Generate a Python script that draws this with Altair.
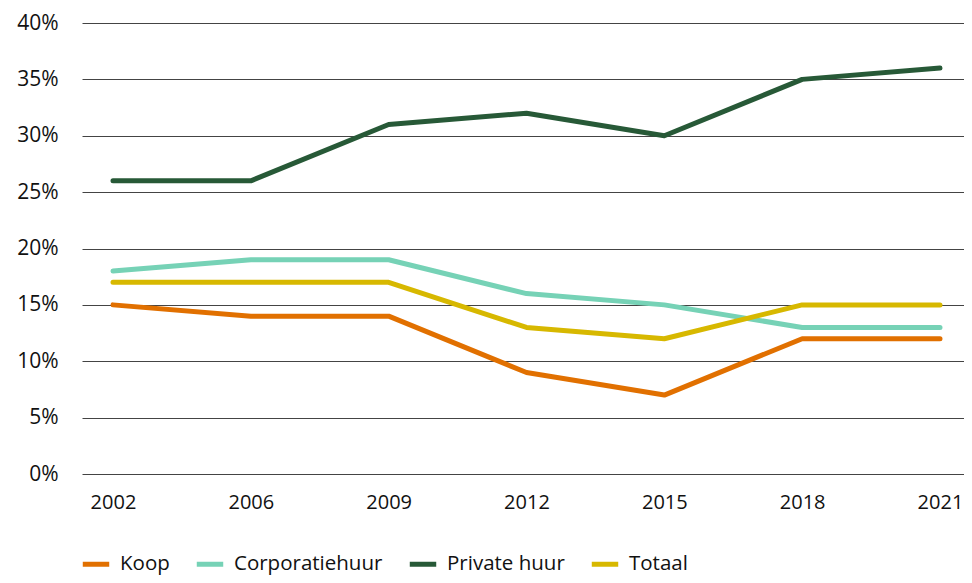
import altair as alt
import pandas as pd

years = ["2002", "2006", "2009", "2012", "2015", "2018", "2021"]
koop = [15, 14, 14, 9, 7, 12, 12]
corporatiehuur = [18, 19, 19, 16, 15, 13, 13]
private_huur = [26, 26, 31, 32, 30, 35, 36]
totaal = [17, 17, 17, 13, 12, 15, 15]

series_names = ["Koop", "Corporatiehuur", "Private huur", "Totaal"]
series_vals = [koop, corporatiehuur, private_huur, totaal]
colors = ["#E17000", "#76D2B6", "#275937", "#D7B800"]

rows = []
for name, vals in zip(series_names, series_vals):
    for y, v in zip(years, vals):
        rows.append({"jaar": y, "serie": name, "waarde": v / 100})
df = pd.DataFrame(rows)

FONT = "Open Sans"

chart = alt.Chart(df).mark_line(strokeWidth=5, strokeCap="round", strokeJoin="round").encode(
    x=alt.X("jaar:O", sort=years, scale=alt.Scale(type="point", padding=0.1995, align=0.5636),
            axis=alt.Axis(title=None, labelAngle=0, domain=False, ticks=False, grid=False,
                          labelPadding=18, labelFontSize=20, labelColor="#111",
                          labelFont=FONT)),
    y=alt.Y("waarde:Q", scale=alt.Scale(domain=[0, 0.4], nice=False),
            axis=alt.Axis(title=None, format=".0%", values=[i / 100 for i in range(0, 41, 5)],
                          domain=False, ticks=False, grid=True, gridColor="#444",
                          gridWidth=1, labelPadding=24, labelFontSize=21,
                          labelColor="#111", labelFont=FONT)),
    color=alt.Color("serie:N", sort=series_names,
                    scale=alt.Scale(domain=series_names, range=colors),
                    legend=alt.Legend(title=None, orient="none", direction="horizontal",
                                      legendX=-2, legendY=525, symbolType="stroke",
                                      symbolSize=700, symbolStrokeWidth=5,
                                      labelFontSize=20.5, labelFont=FONT, labelColor="#111",
                                      labelOffset=8, columnPadding=16, symbolOffset=0)),
).properties(
    width=882, height=451,
    autosize=alt.AutoSizeParams(type="none"),
    padding={"left": 74, "top": 15, "right": 0, "bottom": 101},
).configure_view(stroke=None)

chart.save("out.html", embed_options={"renderer": "svg", "actions": False})
